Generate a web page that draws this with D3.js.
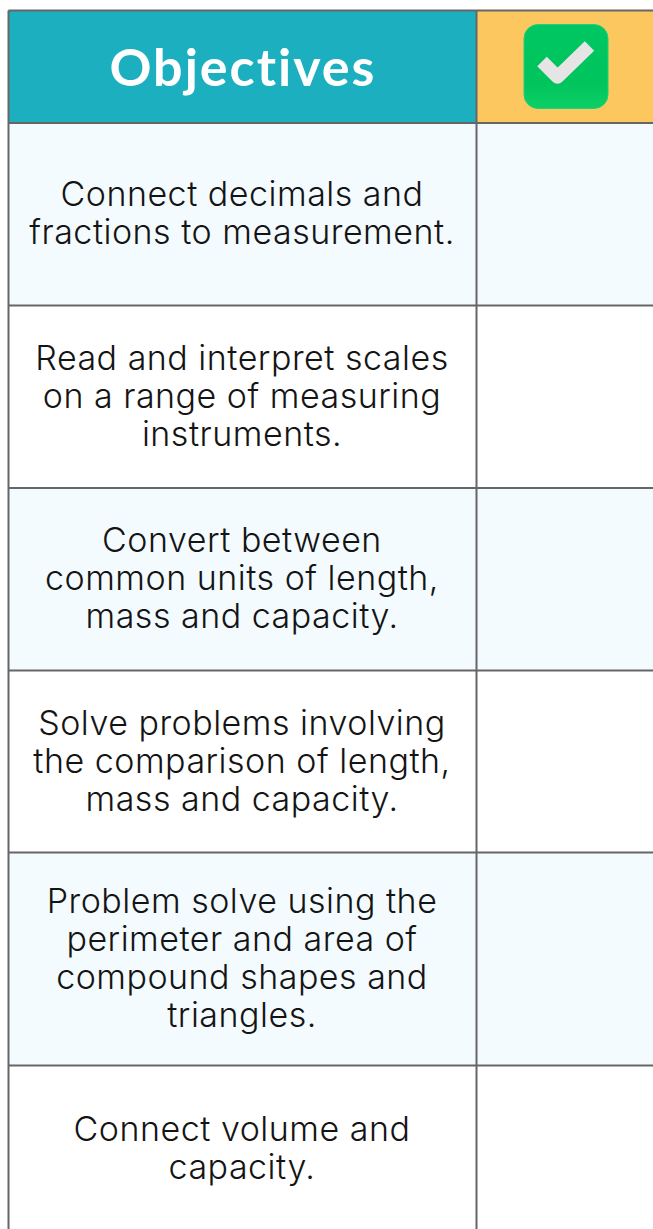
<!DOCTYPE html>
<html>
<head>
<meta charset="utf-8">
<script src="https://d3js.org/d3.v7.min.js"></script>
<style>
  html, body { margin: 0; padding: 0; background: #fff; overflow: hidden; }
  svg { display: block; }
</style>
</head>
<body>
<svg></svg>
<script>
// table content
var headerTitle = "Objectives";
var objectives = [
  ["Connect decimals and", "fractions to measurement."],
  ["Read and interpret scales", "on a range of measuring", "instruments."],
  ["Convert between", "common units of length,", "mass and capacity."],
  ["Solve problems involving", "the comparison of length,", "mass and capacity."],
  ["Problem solve using the", "perimeter and area of", "compound shapes and", "triangles."],
  ["Connect volume and", "capacity."]
];

var width = 653, height = 1229;
var colX = [8.5, 476.5, 660];
var rowY = [10.5, 123, 305.5, 488, 670.5, 852.5, 1065.5, 1233];
var lineGap = 38;
var bodyFont = "Inter, 'Noto Sans', sans-serif";

var svg = d3.select("svg").attr("width", width).attr("height", height);

var defs = svg.append("defs");
var grad = defs.append("linearGradient").attr("id", "tick").attr("x1", 0).attr("y1", 0).attr("x2", 0).attr("y2", 1);
grad.append("stop").attr("offset", "0%").attr("stop-color", "#00c763");
grad.append("stop").attr("offset", "70%").attr("stop-color", "#00c45c");
grad.append("stop").attr("offset", "100%").attr("stop-color", "#0ccf66");

// header cells
svg.append("rect").attr("x", colX[0]).attr("y", rowY[0])
  .attr("width", colX[1] - colX[0]).attr("height", rowY[1] - rowY[0]).attr("fill", "#1bafc0");
svg.append("rect").attr("x", colX[1]).attr("y", rowY[0])
  .attr("width", colX[2] - colX[1]).attr("height", rowY[1] - rowY[0]).attr("fill", "#fdc75f");

svg.append("text")
  .attr("x", 243).attr("y", 86)
  .attr("text-anchor", "middle")
  .attr("font-family", "Lato, sans-serif")
  .attr("font-weight", 700)
  .attr("font-size", 52)
  .attr("letter-spacing", 2)
  .attr("fill", "#fff")
  .text(headerTitle);

// the tick icon
var icon = svg.append("g").attr("transform", "translate(524,24.5)");
icon.append("rect").attr("width", 84).attr("height", 84).attr("rx", 14)
  .attr("fill", "url(#tick)")
  .attr("stroke", "#1fd277").attr("stroke-width", 1);
icon.append("path")
  .attr("d", "M18 37 L33.5 52.5 L65.5 21.5")
  .attr("fill", "none")
  .attr("stroke", "#e6e4e4")
  .attr("stroke-width", 13.5)
  .attr("stroke-linejoin", "round");

// body rows
var rows = svg.selectAll("g.row")
  .data(objectives)
  .enter().append("g")
  .attr("class", "row");

rows.append("rect")
  .attr("x", colX[0])
  .attr("y", function(d, i) { return rowY[i + 1]; })
  .attr("width", colX[2] - colX[0])
  .attr("height", function(d, i) { return rowY[i + 2] - rowY[i + 1]; })
  .attr("fill", function(d, i) { return i % 2 == 0 ? "#f3fbff" : "#fff"; });

rows.each(function(lines, i) {
  var mid = (rowY[i + 1] + rowY[i + 2]) / 2 - 2;
  d3.select(this).selectAll("text")
    .data(lines)
    .enter().append("text")
    .attr("x", 242)
    .attr("y", function(d, j) { return mid + (j - (lines.length - 1) / 2) * lineGap + 13; })
    .attr("text-anchor", "middle")
    .attr("font-family", bodyFont)
    .attr("font-size", 34)
    .attr("font-weight", 300)
    .attr("letter-spacing", 0.5)
    .attr("fill", "#141414")
    .text(function(d) { return d; });
});

// grid lines
svg.selectAll("line.h")
  .data(rowY.slice(0, -1))
  .enter().append("line")
  .attr("class", "h")
  .attr("x1", colX[0]).attr("x2", colX[2])
  .attr("y1", function(d) { return d; }).attr("y2", function(d) { return d; })
  .attr("stroke", "#666").attr("stroke-width", 2);

svg.selectAll("line.v")
  .data(colX.slice(0, -1))
  .enter().append("line")
  .attr("class", "v")
  .attr("x1", function(d) { return d; }).attr("x2", function(d) { return d; })
  .attr("y1", rowY[0]).attr("y2", height)
  .attr("stroke", "#666").attr("stroke-width", 2);
</script>
</body>
</html>
